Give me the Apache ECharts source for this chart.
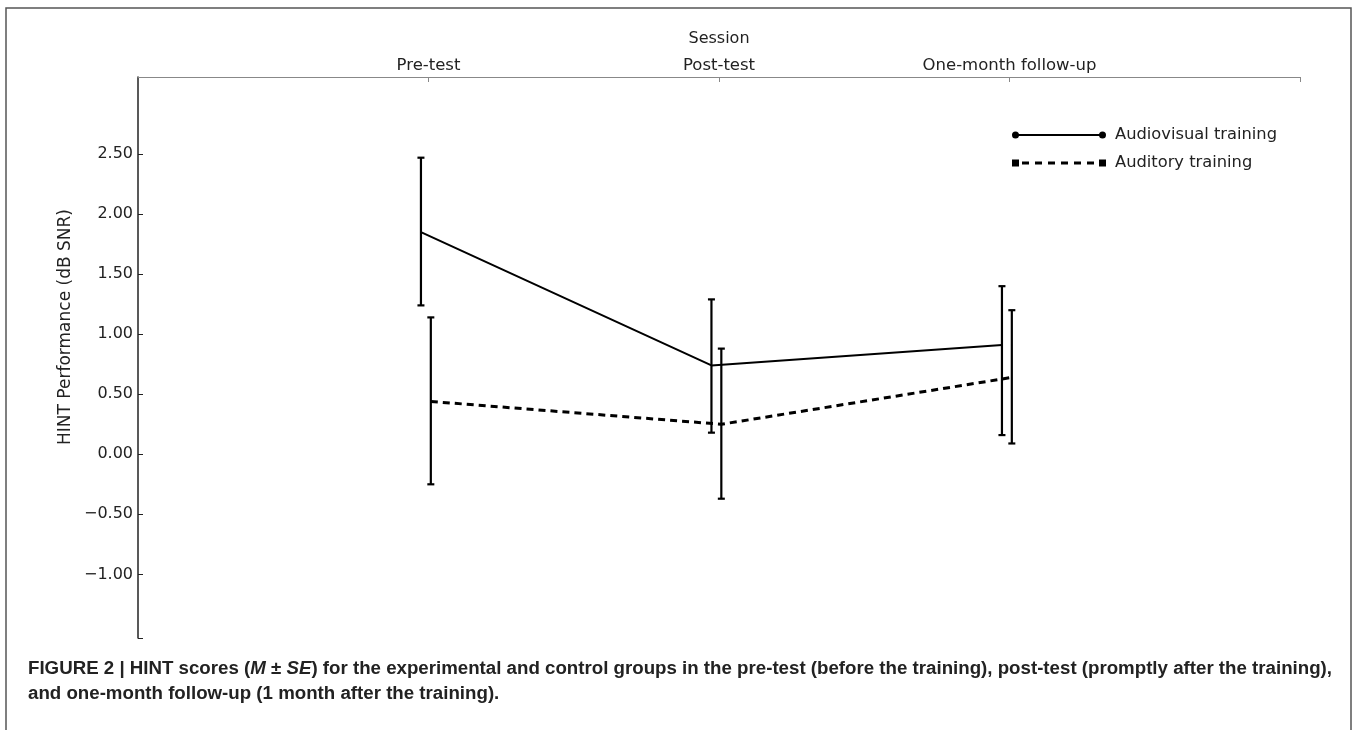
<!DOCTYPE html>
<html>
<head>
<meta charset="utf-8">
<script src="https://cdn.jsdelivr.net/npm/echarts@6/dist/echarts.min.js"></script>
<style>
html,body{margin:0;padding:0;background:#fff;}
#chart{width:1357px;height:730px;}
</style>
</head>
<body>
<div id="chart"></div>
<script>
// ---- data ----
const sessions = ['Pre-test', 'Post-test', 'One-month follow-up'];
const yTickValues = [-1.0, -0.5, 0.0, 0.5, 1.0, 1.5, 2.0, 2.5];

const avName = 'Audiovisual training';
const avMean  = [1.85, 0.74, 0.91];
const avUpper = [2.47, 1.29, 1.40];
const avLower = [1.24, 0.18, 0.16];

const auName = 'Auditory training';
const auMean  = [0.44, 0.25, 0.64];
const auUpper = [1.14, 0.88, 1.20];
const auLower = [-0.25, -0.37, 0.09];

// small horizontal offsets so the two groups' error bars do not overlap
const avOffset = -0.026;
const auOffset = 0.008;

function pts(mean, off) { return mean.map((v, i) => [i + 1 + off, v]); }
function errs(lo, hi, off) { return lo.map((v, i) => [i + 1 + off, v, hi[i]]); }

function renderErr(params, api) {
  const x = api.value(0);
  const lo = api.coord([x, api.value(1)]);
  const hi = api.coord([x, api.value(2)]);
  const cap = 3.5;
  const st = { stroke: '#000', lineWidth: 2.2 };
  return {
    type: 'group',
    children: [
      { type: 'line', shape: { x1: lo[0], y1: lo[1], x2: hi[0], y2: hi[1] }, style: st },
      { type: 'line', shape: { x1: hi[0] - cap, y1: hi[1], x2: hi[0] + cap, y2: hi[1] }, style: st },
      { type: 'line', shape: { x1: lo[0] - cap, y1: lo[1], x2: lo[0] + cap, y2: lo[1] }, style: st }
    ]
  };
}

const FONT = 'DejaVu Sans';
const solidIcon = 'path://M0,3.5A3.5,3.5 0 1 1 7,3.5A3.5,3.5 0 1 1 0,3.5Z M3.5,2.5H90.5V4.5H3.5Z M87,3.5A3.5,3.5 0 1 1 94,3.5A3.5,3.5 0 1 1 87,3.5Z';
const dashIcon = 'path://M0,0H7V7H0Z M10,2H17V5H10Z M23,2H30V5H23Z M36,2H43V5H36Z M49,2H56V5H49Z M62,2H69V5H62Z M75,2H82V5H75Z M87,0H94V7H87Z';

const chart = echarts.init(document.getElementById('chart'), null, { renderer: 'canvas' });
chart.setOption({
  backgroundColor: '#fff',
  animation: false,
  textStyle: { fontFamily: FONT },
  grid: { left: 138, right: 57, top: 77, bottom: 92, containLabel: false },
  xAxis: {
    type: 'value',
    position: 'top',
    min: 0, max: 4,
    name: 'Session',
    nameLocation: 'middle',
    nameGap: 30,
    nameTextStyle: { fontFamily: FONT, fontSize: 16, color: '#222' },
    axisLine: { show: true, onZero: false, lineStyle: { color: '#888', width: 1 } },
    axisTick: { show: true, inside: true, length: 5, lineStyle: { color: '#888' }, customValues: [1, 2, 3, 4] },
    axisLabel: {
      fontFamily: FONT, fontSize: 16.5, color: '#222', margin: 3,
      customValues: [1, 2, 3],
      formatter: v => sessions[Math.round(v) - 1] || ''
    },
    splitLine: { show: false }
  },
  yAxis: {
    type: 'value',
    min: -1.53, max: 3.142,
    axisLine: { show: true, onZero: false, lineStyle: { color: '#222', width: 1.5 } },
    axisTick: { show: true, inside: true, length: 5, lineStyle: { color: '#222' }, customValues: yTickValues.concat([-1.53]) },
    axisLabel: {
      fontFamily: FONT, fontSize: 16, color: '#222', margin: 5,
      customValues: yTickValues,
      formatter: v => (v < 0 ? '\u2212' : '') + Math.abs(v).toFixed(2)
    },
    splitLine: { show: false }
  },
  legend: {
    orient: 'vertical',
    left: 1007, top: 122,
    itemGap: 12,
    itemWidth: 94, itemHeight: 7,
    itemStyle: { color: '#000', borderWidth: 0 },
    textStyle: { fontFamily: FONT, fontSize: 16.3, color: '#222', padding: [0, 0, 0, 4] },
    data: [
      { name: avName, icon: solidIcon },
      { name: auName, icon: dashIcon }
    ]
  },
  series: [
    {
      name: avName, type: 'line', data: pts(avMean, avOffset),
      showSymbol: false, symbol: 'none',
      lineStyle: { color: '#000', width: 2 }, itemStyle: { color: '#000' }, z: 3
    },
    {
      name: auName, type: 'line', data: pts(auMean, auOffset),
      showSymbol: false, symbol: 'none',
      lineStyle: { color: '#000', width: 3, type: [7, 5] }, itemStyle: { color: '#000' }, z: 3
    },
    { name: avName, type: 'custom', renderItem: renderErr, data: errs(avLower, avUpper, avOffset), z: 4 },
    { name: auName, type: 'custom', renderItem: renderErr, data: errs(auLower, auUpper, auOffset), z: 4 }
  ],
  graphic: [
    {
      type: 'rect', z: -1, silent: true,
      shape: { x: 6, y: 8, width: 1345, height: 800 },
      style: { fill: 'none', stroke: '#555', lineWidth: 1.5 }
    },
    {
      type: 'text', x: 66, y: 327, rotation: Math.PI / 2,
      style: {
        text: 'HINT Performance (dB SNR)', fontFamily: FONT, fontSize: 17, fill: '#222',
        align: 'center', verticalAlign: 'middle'
      }
    },
    {
      type: 'text', left: 28, top: 659,
      style: {
        text: '{b|FIGURE 2 | HINT scores (}{bi|M}{b| \u00b1 }{bi|SE}{b|) for the experimental and control groups in the pre-test (before the training), post-test (promptly after the training),}\n{b|and one-month follow-up (1 month after the training).}',
        rich: {
          b: { fontFamily: 'Liberation Sans', fontWeight: 'bold', fontSize: 18.7, fill: '#222', lineHeight: 25 },
          bi: { fontFamily: 'Liberation Sans', fontWeight: 'bold', fontStyle: 'italic', fontSize: 18.7, fill: '#222', lineHeight: 25 }
        }
      }
    }
  ]
});
</script>
</body>
</html>
